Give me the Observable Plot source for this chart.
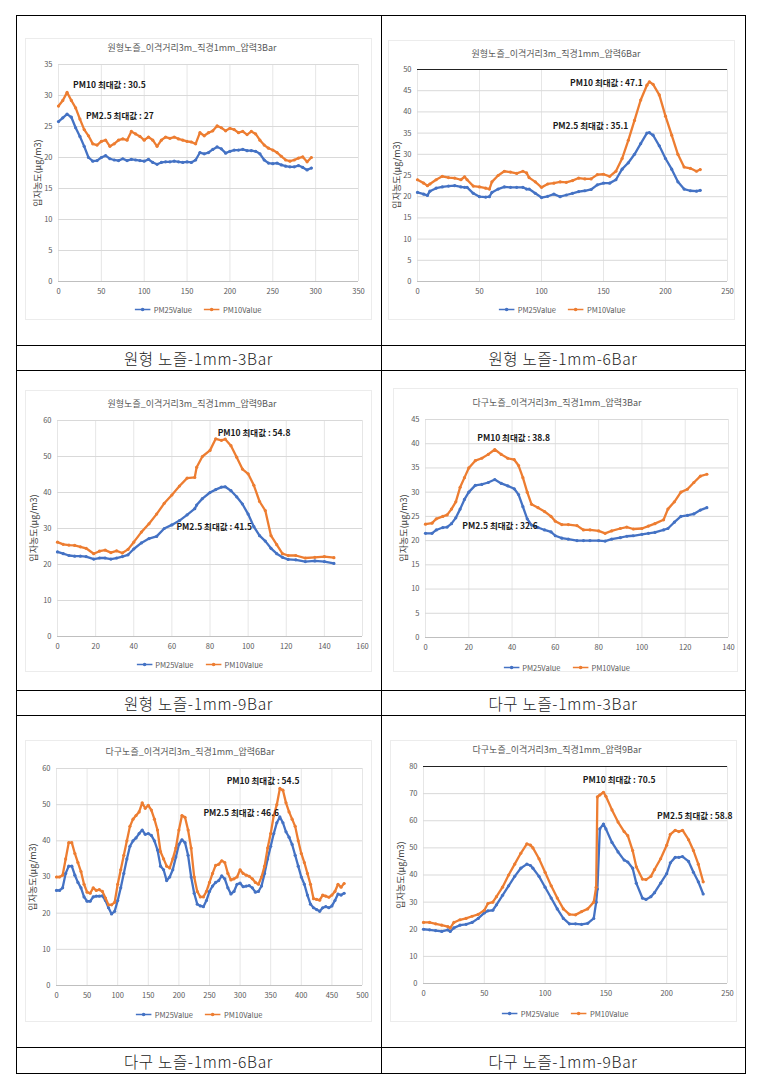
<!DOCTYPE html>
<html>
<head>
<meta charset="utf-8">
<script src="https://cdn.jsdelivr.net/npm/d3@7"></script>
<script src="https://cdn.jsdelivr.net/npm/@observablehq/plot@0.6"></script>
<style>
  html, body { margin: 0; padding: 0; background: #fff; }
  #page { position: relative; width: 758px; height: 1080px; overflow: hidden; background: #fff;
          font-family: 'Noto Sans CJK KR', 'Noto Sans', sans-serif; }
  .hl { position: absolute; height: 1px; background: #000; }
  .vl { position: absolute; width: 1px; background: #000; }
  .ttl { position: absolute; font-size: 9px; color: #595959; white-space: nowrap; transform: translate(-50%, -50%); }
  .ylab { position: absolute; font-size: 9px; color: #404040; white-space: nowrap; transform: translate(-50%, -50%) rotate(-90deg); }
  .leg { position: absolute; font-size: 7.5px; color: #595959; white-space: nowrap; transform: translate(-50%, -50%); display: flex; align-items: center; gap: 3px; }
  .leg svg { display: block; }
  .cap { position: absolute; font-size: 15.5px; letter-spacing: 0.7px; color: #1a1a1a; white-space: nowrap; transform: translate(-50%, -50%); font-weight: 300; }
  .area { position: absolute; border: 1px solid #ececec; box-sizing: border-box; }
</style>
</head>
<body>
<div id="page"></div>
<script>
// ---------------- DATA ----------------
const BLUE = "#4472C4";
const ORANGE = "#ED7D31";
const seriesNames = ["PM25Value", "PM10Value"];

const titles = [
  "원형노즐_이격거리3m_직경1mm_압력3Bar",
  "원형노즐_이격거리3m_직경1mm_압력6Bar",
  "원형노즐_이격거리3m_직경1mm_압력9Bar",
  "다구노즐_이격거리3m_직경1mm_압력3Bar",
  "다구노즐_이격거리3m_직경1mm_압력6Bar",
  "다구노즐_이격거리3m_직경1mm_압력9Bar"
];
const captions = [
  "원형 노즐-1mm-3Bar", "원형 노즐-1mm-6Bar",
  "원형 노즐-1mm-9Bar", "다구 노즐-1mm-3Bar",
  "다구 노즐-1mm-6Bar", "다구 노즐-1mm-9Bar"
];
const yAxisLabel = "입자농도(μg/m3)";

// Chart 1: 원형 3Bar
const c1_x = [0,5,10,15,20,25,30,35,40,45,50,55,60,65,70,75,80,85,90,95,100,105,110,115,120,125,130,135,140,145,150,155,160,165,170,175,180,185,190,195,200,205,210,215,220,225,230,235,240,245,250,255,260,265,270,275,280,285,290,295];
const c1_pm10 = [28.3,29.2,30.5,29.2,28,26.2,24.5,23.5,22.2,22,22.6,22.8,21.8,22.2,22.8,23,22.8,24.2,23.8,23.4,22.8,23.3,22.8,21.8,22.8,23.3,23.1,23.3,23,22.8,22.6,22.5,22.2,24,23.5,24,24.3,25.1,24.8,24.3,24.7,24.5,24,24.2,23.7,24.2,23.8,22.8,22,21.5,21.2,20.8,20.2,19.6,19.4,19.6,19.9,20.1,19.3,20];
const c1_pm25 = [25.8,26.4,27,26.5,24.8,23.4,21.8,20,19.4,19.5,20,20.3,19.8,19.6,19.5,19.8,19.5,19.7,19.6,19.5,19.4,19.7,19.2,18.9,19.2,19.3,19.3,19.4,19.3,19.2,19.3,19.2,19.6,20.8,20.6,20.8,21.3,21.7,21.4,20.7,21,21.2,21.2,21.3,21.1,21.1,21,20.6,19.6,19.1,19,19.1,18.8,18.6,18.5,18.5,18.7,18.4,18,18.3];
const c1_xTicks = [0,50,100,150,200,250,300,350];
const c1_yTicks = [0,5,10,15,20,25,30,35];
const c1_notes = ["PM10 최대값 : 30.5", "PM2.5 최대값 : 27"];
const c1_noteX = [17, 32];
const c1_noteY = [31.7, 26.7];

// Chart 2: 원형 6Bar
const c2_x = [0,5,8,10,15,20,25,30,35,38,40,45,50,55,58,60,65,70,75,80,85,88,90,95,100,105,110,115,120,125,130,135,140,145,150,155,160,165,170,175,180,185,187,190,195,200,205,210,215,220,225,228];
const c2_pm10 = [24,23.2,22.6,23,24,24.8,24.5,24.4,24,24.7,24,22.5,22.3,22,21.8,23.5,25,26,25.8,25.5,26,25.6,24.5,23.5,22.2,23,23.2,23.5,23.4,23.8,24.4,24.2,24.2,25.2,25.3,24.8,26,29,33.3,38,42.8,46.3,47.1,46.5,44,39,34.5,30,27,26.7,26,26.4];
const c2_pm25 = [21,20.6,20.3,21.3,22,22.3,22.5,22.6,22.3,22.2,22.2,20.8,20,19.9,20,21,21.8,22.3,22.2,22.2,22.2,21.8,21.8,20.8,19.8,20.1,20.6,20,20.4,20.8,21.2,21.4,21.7,22.8,23.2,23.2,24,26.5,28,30,32.5,35,35.1,34.5,32,29,26.5,23.5,21.8,21.4,21.3,21.5];
const c2_xTicks = [0,50,100,150,200,250];
const c2_yTicks = [0,5,10,15,20,25,30,35,40,45,50];
const c2_notes = ["PM10 최대값 : 47.1", "PM2.5 최대값 : 35.1"];
const c2_noteX = [123, 109];
const c2_noteY = [46.7, 36.6];

// Chart 3: 원형 9Bar
const c3_x = [0,3,6,9,12,15,19,22,25,28,31,34,37,40,44,48,52,56,60,64,68,72,73,76,80,83,86,88,91,94,97,100,103,106,109,112,115,118,121,125,130,135,140,145];
const c3_pm10 = [26.2,25.6,25.4,25.3,24.9,24.5,23,23.7,24,23.3,23.8,23.2,24.2,26.2,29,31.3,34,37,39.3,41.8,44,44.2,47,50,51.7,54.9,54.5,54.8,53,49.8,46.5,45.2,42,37.5,35,28,25.5,23,22.5,22.5,21.8,22,22.2,21.9];
const c3_pm25 = [23.5,23,22.5,22.3,22.3,22.2,21.5,21.8,21.8,21.5,21.8,22.2,22.7,24.3,26,27.2,27.8,30,31,32.2,33.8,35.5,36.5,38.3,40,40.8,41.5,41.6,40.5,38.8,36.8,34,30.5,28,26.5,24.5,23,22,21.4,21.3,20.8,21,20.8,20.3];
const c3_xTicks = [0,20,40,60,80,100,120,140,160];
const c3_yTicks = [0,10,20,30,40,50,60];
const c3_notes = ["PM10 최대값 : 54.8", "PM2.5 최대값 : 41.5"];
const c3_noteX = [84, 62.4];
const c3_noteY = [56.5, 30.3];

// Chart 4: 다구 3Bar
const c4_x = [0,3,5,8,10,12,14,16,18,20,23,26,29,32,35,38,41,43,45,47,49,52,55,58,60,63,66,70,73,76,80,83,86,90,93,96,100,103,106,110,112,115,118,121,124,127,130];
const c4_pm10 = [23.4,23.6,24.5,25,25.3,26.5,28,31,33,35,36.5,37,37.8,38.8,37.8,37,36.7,35.5,33,30,27.5,26.8,26,25,24,23.3,23.3,23.1,22.2,22.2,22,21.5,22,22.5,22.8,22.4,22.5,23,23.5,24.3,26.5,28,30,30.6,32,33.3,33.7];
const c4_pm25 = [21.5,21.5,22.2,22.7,22.8,23.5,24.7,26.5,28.5,30,31.4,31.6,32,32.6,31.8,31.3,30.7,29.5,27,24.5,23.2,22.7,22.2,21.8,21,20.5,20.3,20,20,20,20,19.9,20.3,20.6,20.9,21,21.3,21.5,21.7,22.2,22.5,23.8,25,25.2,25.5,26.3,26.8];
const c4_xTicks = [0,20,40,60,80,100,120,140];
const c4_yTicks = [0,5,10,15,20,25,30,35,40,45];
const c4_notes = ["PM10 최대값 : 38.8", "PM2.5 최대값 : 32.6"];
const c4_noteX = [23.9, 17];
const c4_noteY = [41.2, 23];

// Chart 5: 다구 6Bar
const c5_x = [0,5,10,15,20,25,30,35,40,45,50,55,60,65,70,75,80,85,90,95,100,105,110,115,120,125,130,135,140,145,150,155,160,165,170,175,180,185,190,195,200,205,210,215,220,225,230,235,240,245,250,255,260,265,270,275,280,285,290,295,300,305,310,315,320,325,330,335,340,345,350,355,360,365,370,375,380,385,390,395,400,405,410,415,420,425,430,435,440,445,450,455,460,465,470];
const c5_pm10 = [30,30,30.5,35,39.5,39.5,36.5,34,31.5,28,25.8,25.5,27,26.3,26.5,26,24.2,22.3,22.3,23,28,32,36,40,44,46,47,48,50.5,49,49.8,48.5,46,43,37,35,33,32.5,35,38,43,47,46.5,43,38,30,26,24.5,24.5,26,28.5,31,33.2,33.5,34.5,34,31,29.2,29.5,30,32,31,30.5,30.2,29.5,28.5,28,30,33,38,42,47,50,54.5,54,50.5,48,46,44,40,36.5,34,31,28,24,23.8,23.6,25,24.7,24.4,25,26,28,27.2,28.2];
const c5_pm25 = [26.3,26.3,27,31,33,33,30.5,28.5,27,24.5,23.3,23.3,24.5,24.7,24.7,24.8,23.5,21.5,19.8,20.5,23.5,27,31,35,38.5,40,40.8,42,43,41.8,42,41.5,40,37.5,33,32,29,30,32,35.5,39,40.3,39.5,36,30,25.5,22.5,22,21.8,23.5,26,27.5,28.5,29,30.3,29.5,27,25.3,26,28,28.3,27.3,27.5,27.6,27,25.8,26,27.5,31,35,38.5,42,45,46.6,45,42.5,41,39,36,33,30,28,25,22.5,21.5,21,20.5,21.5,21.8,21.5,22,23.5,25.3,25,25.5];
const c5_xTicks = [0,50,100,150,200,250,300,350,400,450,500];
const c5_yTicks = [0,10,20,30,40,50,60];
const c5_notes = ["PM10 최대값 : 54.5", "PM2.5 최대값 : 46.6"];
const c5_noteX = [278, 240];
const c5_noteY = [56.5, 47.7];

// Chart 6: 다구 9Bar
const c6_x = [0,5,10,15,20,22,25,30,35,40,45,50,53,57,60,65,70,75,80,85,88,90,95,100,105,110,115,120,125,130,135,140,142,143,145,148,150,155,160,165,168,172,175,180,183,187,190,195,200,203,207,210,213,218,222,226,230];
const c6_pm10 = [22.5,22.5,22,21.5,21,20.5,22.5,23.5,24,24.8,25.5,27,29.5,30,32,35.5,40,44,48,51.5,51,50,46,41,36,31.5,27.5,25.5,25.3,26.5,27.5,30,35.5,68.8,69.5,70.5,69,64,59.5,56,54.5,49,43,38.5,38.3,39.5,42,46,51,55,56.5,56,56.5,53,49,44,37.5];
const c6_pm25 = [20,19.8,19.5,19.2,19.8,19.2,20.5,21.5,21.8,22.5,24,26,26.8,27,29,32.5,36,39.5,42.5,44,43.5,42.5,39.5,35.5,31.5,27.5,24,22,22,21.8,22.2,24,30,34.8,57,58.8,57,52,48.5,45.5,44.8,42.5,37,31.5,31,32,33.5,37,40.5,44.5,46.5,46.5,46.8,45,41,37.5,33];
const c6_xTicks = [0,50,100,150,200,250];
const c6_yTicks = [0,10,20,30,40,50,60,70,80];
const c6_notes = ["PM10 최대값 : 70.5", "PM2.5 최대값 : 58.8"];
const c6_noteX = [131, 192];
const c6_noteY = [75, 61.5];

// ---------------- LAYOUT ----------------
const FONT = "'Noto Sans CJK KR', 'Noto Sans', sans-serif";
const page = document.getElementById("page");

function el(cls, styles, text) {
  const d = document.createElement("div");
  d.className = cls;
  Object.assign(d.style, styles);
  if (text != null) d.textContent = text;
  page.appendChild(d);
  return d;
}

const tableL = 16, tableR = 745, tableM = 381;
const rowLines = [15, 345, 370, 690, 715, 1047, 1073];
rowLines.forEach(y => el("hl", {left: tableL + "px", top: y + "px", width: (tableR - tableL + 1) + "px"}));
[tableL, tableM, tableR].forEach(x => el("vl", {left: x + "px", top: "15px", height: (1073 - 15 + 1) + "px"}));

const charts = [
  {x:c1_x, pm25:c1_pm25, pm10:c1_pm10, xt:c1_xTicks, yt:c1_yTicks, notes:c1_notes, nx:c1_noteX, ny:c1_noteY,
   L:58, R:358, T:64, B:281, top:false, titleX:192, titleY:47, legY:309, ylabX:37, area:[25,38,372,320]},
  {x:c2_x, pm25:c2_pm25, pm10:c2_pm10, xt:c2_xTicks, yt:c2_yTicks, notes:c2_notes, nx:c2_noteX, ny:c2_noteY,
   L:417, R:727, T:69, B:281, top:true, titleX:556, titleY:53, legY:309, ylabX:396, area:[388,40,735,320]},
  {x:c3_x, pm25:c3_pm25, pm10:c3_pm10, xt:c3_xTicks, yt:c3_yTicks, notes:c3_notes, nx:c3_noteX, ny:c3_noteY,
   L:57, R:362, T:420, B:636, top:false, titleX:192, titleY:403, legY:664, ylabX:33, area:[25,390,372,672]},
  {x:c4_x, pm25:c4_pm25, pm10:c4_pm10, xt:c4_xTicks, yt:c4_yTicks, notes:c4_notes, nx:c4_noteX, ny:c4_noteY,
   L:425, R:728, T:419, B:637, top:false, titleX:557, titleY:402, legY:667, ylabX:403, area:[393,388,738,672]},
  {x:c5_x, pm25:c5_pm25, pm10:c5_pm10, xt:c5_xTicks, yt:c5_yTicks, notes:c5_notes, nx:c5_noteX, ny:c5_noteY,
   L:56, R:362, T:768, B:985, top:false, titleX:190, titleY:751, legY:1014, ylabX:32, area:[25,740,372,1022]},
  {x:c6_x, pm25:c6_pm25, pm10:c6_pm10, xt:c6_xTicks, yt:c6_yTicks, notes:c6_notes, nx:c6_noteX, ny:c6_noteY,
   L:423, R:727, T:766, B:983, top:true, titleX:557, titleY:749, legY:1013, ylabX:400, area:[390,740,737,1022]}
];

function legendSwatch(color) {
  return `<svg width="16" height="6" viewBox="0 0 16 6"><line x1="0" y1="3" x2="16" y2="3" stroke="${color}" stroke-width="1.6"/><circle cx="8" cy="3" r="1.8" fill="${color}"/></svg>`;
}

charts.forEach((c, i) => {
  const [ax0, ay0, ax1, ay1] = c.area;
  el("area", {left: ax0 + "px", top: ay0 + "px", width: (ax1 - ax0) + "px", height: (ay1 - ay0) + "px"});

  const mL = 32, mR = 12, mT = 8, mB = 22;
  const W = c.R - c.L, H = c.B - c.T;
  const rows = c.x.map((x, k) => ({x, pm25: c.pm25[k], pm10: c.pm10[k]}));
  const notes = c.notes.map((t, k) => ({t, x: c.nx[k], y: c.ny[k]}));
  const xMax = c.xt[c.xt.length - 1], yMax = c.yt[c.yt.length - 1];

  const svg = Plot.plot({
    width: W + mL + mR, height: H + mT + mB,
    marginLeft: mL, marginRight: mR, marginTop: mT, marginBottom: mB,
    style: {fontFamily: FONT, fontSize: "7.5px", color: "#595959", background: "transparent", overflow: "visible"},
    x: {domain: [0, xMax]},
    y: {domain: [0, yMax]},
    marks: [
      Plot.gridX(c.xt, {stroke: "#e6e6e6", strokeOpacity: 1}),
      Plot.gridY(c.yt, {stroke: "#d9d9d9", strokeOpacity: 1}),
      Plot.ruleY([0], {stroke: "#bfbfbf"}),
      c.top ? Plot.ruleY([yMax], {stroke: "#222", strokeWidth: 1.2}) : null,
      Plot.axisX(c.xt, {tickSize: 0, tickPadding: 7, label: null, fontSize: 7.5}),
      Plot.axisY(c.yt, {tickSize: 0, tickPadding: 6, label: null, fontSize: 7.5}),
      Plot.lineY(rows, {x: "x", y: "pm25", stroke: BLUE, strokeWidth: 2.3}),
      Plot.dot(rows, {x: "x", y: "pm25", r: 1.6, fill: BLUE}),
      Plot.lineY(rows, {x: "x", y: "pm10", stroke: ORANGE, strokeWidth: 2.3}),
      Plot.dot(rows, {x: "x", y: "pm10", r: 1.6, fill: ORANGE}),
      Plot.text(notes, {x: "x", y: "y", text: "t", textAnchor: "start", fontWeight: "bold", fontSize: 8.5, fill: "#1a1a1a"})
    ]
  });
  svg.style.position = "absolute";
  svg.style.left = (c.L - mL) + "px";
  svg.style.top = (c.T - mT) + "px";
  page.appendChild(svg);

  el("ttl", {left: c.titleX + "px", top: c.titleY + "px"}, titles[i]);
  el("ylab", {left: c.ylabX + "px", top: ((c.T + c.B) / 2) + "px"}, yAxisLabel);
  const leg = el("leg", {left: ((c.L + c.R) / 2 - 10) + "px", top: c.legY + "px"});
  leg.innerHTML = `${legendSwatch(BLUE)}<span>${seriesNames[0]}</span><span style="width:6px"></span>${legendSwatch(ORANGE)}<span>${seriesNames[1]}</span>`;

  const cellL = (i % 2 === 0) ? tableL : tableM;
  const cellR = (i % 2 === 0) ? tableM : tableR;
  const rowIdx = Math.floor(i / 2);
  const capTop = rowLines[rowIdx * 2 + 1], capBot = rowLines[rowIdx * 2 + 2];
  el("cap", {left: ((cellL + cellR) / 2) + "px", top: ((capTop + capBot) / 2 + 0.5) + "px"}, captions[i]);
});
</script>
</body>
</html>
